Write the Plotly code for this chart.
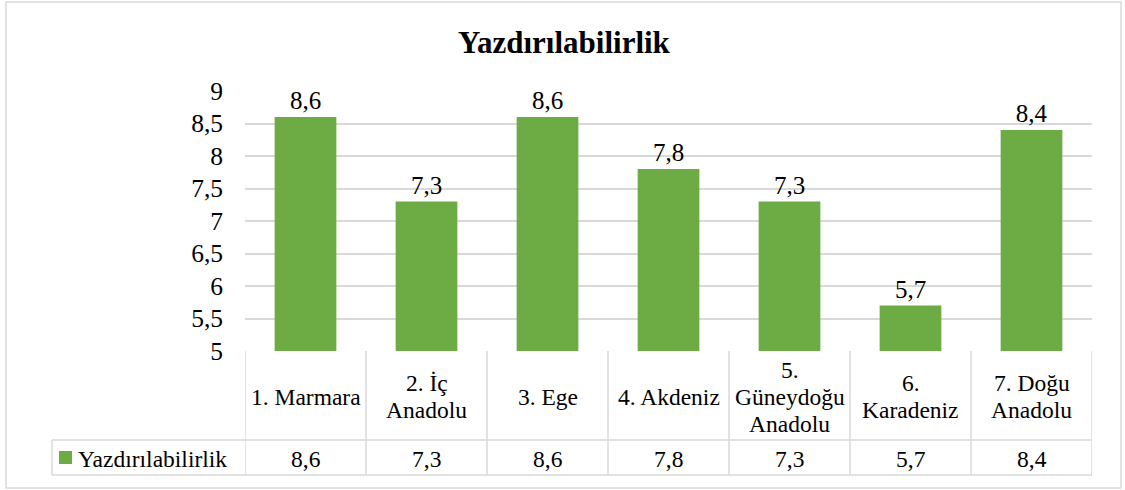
import plotly.graph_objects as go

categories = ["1. Marmara", "2. İç Anadolu", "3. Ege", "4. Akdeniz",
              "5. Güneydoğu Anadolu", "6. Karadeniz", "7. Doğu Anadolu"]
header_lines = [["1. Marmara"], ["2. İç", "Anadolu"], ["3. Ege"], ["4. Akdeniz"],
                ["5.", "Güneydoğu", "Anadolu"], ["6.", "Karadeniz"], ["7. Doğu", "Anadolu"]]
values = [8.6, 7.3, 8.6, 7.8, 7.3, 5.7, 8.4]
series_name = "Yazdırılabilirlik"
y_ticks = [5, 5.5, 6, 6.5, 7, 7.5, 8, 8.5, 9]

W, H = 1125, 490
FONT = "Liberation Serif"
GRID = "#d9d9d9"
GREEN = "#6dab45"

def px(x):
    return x / W

def py(y):
    return 1 - y / H

plot_left, plot_right, plot_top, plot_bottom = 245, 1092, 91, 351
head_bottom, table_bottom, legend_left = 440, 475, 52

fig = go.Figure()
fig.add_trace(go.Bar(
    x=list(range(len(categories))), y=values, name=series_name,
    marker=dict(color=GREEN, line=dict(width=0)),
    text=[f"{v:.1f}".replace(".", ",") for v in values],
    textposition="outside", cliponaxis=False,
    textfont=dict(family=FONT, size=25, color="#000"),
    width=0.51, base=0, showlegend=False,
))

shapes = []
annotations = []

shapes.append(dict(type="rect", xref="paper", yref="paper",
                   x0=px(6), x1=px(1121), y0=py(488), y1=py(2),
                   line=dict(color=GRID, width=1.5)))

n = len(categories)
line = dict(color=GRID, width=1.5)
shapes.append(dict(type="line", xref="x", yref="paper", x0=-0.5, x1=n - 0.5,
                   y0=py(head_bottom), y1=py(head_bottom), line=line))
shapes.append(dict(type="line", xref="paper", yref="paper", x0=px(legend_left), x1=px(plot_left),
                   y0=py(head_bottom), y1=py(head_bottom), line=line))
shapes.append(dict(type="line", xref="paper", yref="paper", x0=px(legend_left), x1=px(plot_right),
                   y0=py(table_bottom), y1=py(table_bottom), line=line))
for i in range(n + 1):
    shapes.append(dict(type="line", xref="x", yref="paper", x0=i - 0.5, x1=i - 0.5,
                       y0=py(table_bottom), y1=py(plot_bottom), line=line))
shapes.append(dict(type="line", xref="paper", yref="paper", x0=px(legend_left), x1=px(legend_left),
                   y0=py(table_bottom), y1=py(head_bottom), line=line))

LH = 27
head_center = (plot_bottom + head_bottom) / 2 + 1
for i, lines in enumerate(header_lines):
    k = len(lines)
    for j, t in enumerate(lines):
        yc = head_center + (j - (k - 1) / 2) * LH
        annotations.append(dict(x=i, xref="x", y=py(yc), yref="paper", text=t,
                                showarrow=False, xanchor="center", yanchor="middle",
                                font=dict(family=FONT, size=23.5, color="#000")))

val_center = (head_bottom + table_bottom) / 2 + 1
for i, v in enumerate(values):
    annotations.append(dict(x=i, xref="x", y=py(val_center), yref="paper",
                            text=f"{v:.1f}".replace(".", ","),
                            showarrow=False, xanchor="center", yanchor="middle",
                            font=dict(family=FONT, size=23.5, color="#000")))

shapes.append(dict(type="rect", xref="paper", yref="paper",
                   x0=px(59), x1=px(72), y0=py(464), y1=py(451),
                   fillcolor=GREEN, line=dict(width=0)))
annotations.append(dict(x=px(76), xref="paper", y=py(val_center), yref="paper",
                        text=series_name, showarrow=False, xanchor="left", yanchor="middle",
                        font=dict(family=FONT, size=23.5, color="#000")))

annotations.append(dict(x=px(564), xref="paper", y=py(43), yref="paper",
                        text="<b>Yazdırılabilirlik</b>", showarrow=False,
                        xanchor="center", yanchor="middle",
                        font=dict(family=FONT, size=31, color="#000")))

fig.update_layout(
    width=W, height=H,
    margin=dict(l=0, r=0, t=0, b=0, pad=0, autoexpand=False),
    paper_bgcolor="#fff", plot_bgcolor="#fff",
    separators=", ",
    font=dict(family=FONT),
    xaxis=dict(domain=[px(plot_left), px(plot_right)], range=[-0.5, n - 0.5],
               showticklabels=False, showgrid=False, zeroline=False, showline=False,
               ticks="", fixedrange=True, automargin=False),
    yaxis=dict(domain=[py(plot_bottom), py(plot_top)], range=[5, 9],
               tickvals=y_ticks, ticktext=[f"{t:g}".replace(".", ",") for t in y_ticks],
               showgrid=True, gridcolor=GRID, gridwidth=1.5,
               zeroline=False, showline=False, ticks="",
               ticklabelstandoff=21, automargin=False, fixedrange=True,
               tickfont=dict(family=FONT, size=25.5, color="#000")),
    shapes=shapes, annotations=annotations,
    bargap=0.49, showlegend=False,
)

fig.write_html("out.html", config={"displayModeBar": False},
               post_script="document.body.style.margin='0';document.body.style.overflow='hidden';")
